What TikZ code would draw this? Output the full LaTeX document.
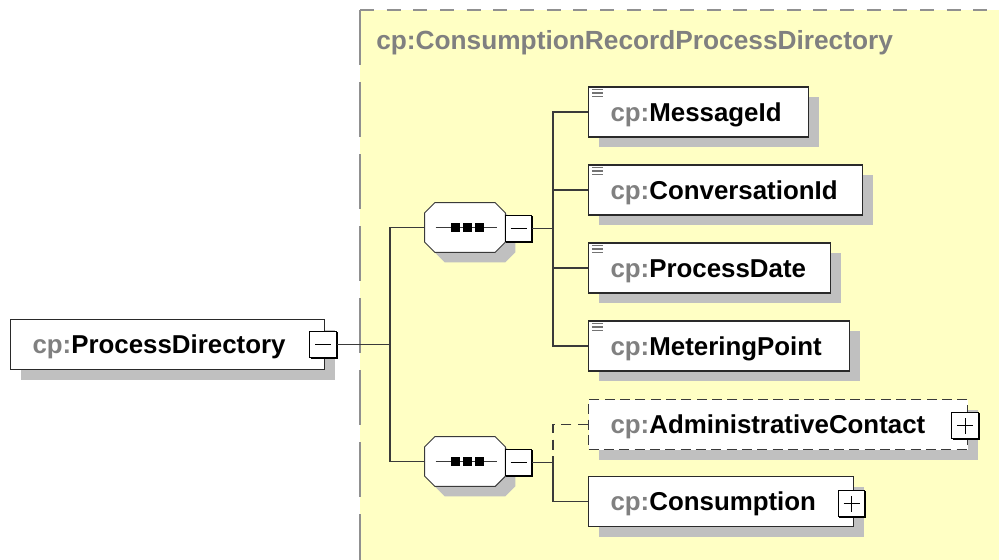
\documentclass[tikz,border=0pt]{standalone}
\usepackage{fontspec}
\setmainfont{Liberation Sans}
\usetikzlibrary{shadows,calc}
\definecolor{bgyellow}{HTML}{FFFFC4}
\definecolor{shadowgrey}{HTML}{C0C0C0}
\definecolor{cpgrey}{HTML}{808080}
\definecolor{framegrey}{HTML}{909090}
\definecolor{linecol}{HTML}{3A3A3A}
\definecolor{boxline}{HTML}{2A2A2A}
\tikzset{
  lbl/.style={font=\bfseries\fontsize{19.4}{21}\selectfont},
  titlelbl/.style={font=\bfseries\fontsize{19.7}{21}\selectfont},
  elem/.style={lbl, draw=boxline, line width=0.8pt, fill=white, rectangle, anchor=west,
    minimum height=37.5pt, inner xsep=16.5pt, inner ysep=0pt, align=left,
    text height=14pt, text depth=0.5pt,
    drop shadow={shadow xshift=7.5pt, shadow yshift=-7.5pt, fill=shadowgrey, opacity=1}},
  optelem/.style={elem, dash pattern=on 7.5pt off 4pt, draw=linecol},
  tog/.style={draw=black, line width=0.75pt, fill=white, rectangle, minimum width=20pt, minimum height=20pt, inner sep=0pt,
    drop shadow={shadow xshift=0.9pt, shadow yshift=-0.9pt, fill=black, opacity=1}},
  seqbox/.style={rectangle, minimum width=60pt, minimum height=36.75pt, inner sep=0pt},
  octo/.style={draw=linecol, line width=0.75pt, fill=white,
    drop shadow={shadow xshift=7.5pt, shadow yshift=-7.5pt, fill=shadowgrey, opacity=1}},
  conn/.style={draw=linecol, line width=0.9pt},
  iconline/.style={draw=cpgrey!90!black, line width=0.9pt},
}
\newcommand{\octagon}[1]{%
  \path[octo] ([xshift=7.5pt]#1.north west) -- ([xshift=-7.5pt]#1.north east) -- ([yshift=-7.5pt]#1.north east)
    -- ([yshift=7.5pt]#1.south east) -- ([xshift=-7.5pt]#1.south east) -- ([xshift=7.5pt]#1.south west)
    -- ([yshift=7.5pt]#1.south west) -- ([yshift=-7.5pt]#1.north west) -- cycle;
  \draw[linecol, line width=0.9pt] ([xshift=8.25pt]#1.west) -- ([xshift=-6pt]#1.east);
  \foreach \dx in {-14,-2,10} {\fill[black] ($(#1.center)+(\dx,0)+(0,-4.5)$) rectangle ++(9,9);}
}
\newcommand{\simpleicon}[1]{%
  \foreach \dy in {3,6.5,10} {\draw[iconline] ($(#1.north west)+(4,\dy)$) -- ++(11,0);}
}
\newcommand{\minusmark}[1]{\draw[black, line width=0.75pt] ([xshift=-6pt]#1.center) -- ([xshift=6pt]#1.center);}
\newcommand{\plusmark}[1]{\minusmark{#1}\draw[black, line width=0.75pt] ([yshift=-6pt]#1.center) -- ([yshift=6pt]#1.center);}
\begin{document}
\begin{tikzpicture}[x=0.75pt,y=-0.75pt]
\useasboundingbox (0,0) rectangle (999,560);
\fill[white] (0,0) rectangle (999,560);
\fill[bgyellow] (360,10) rectangle (999,560);
\draw[framegrey, line width=0.9pt, dash pattern=on 10.5pt off 9.5pt] (360,10) -- (999,10);
\draw[framegrey, line width=0.9pt, dash pattern=on 41pt off 13pt] (360,10) -- (360,560);
\node[titlelbl, anchor=base west, text=cpgrey, inner sep=0pt] (title) at (376,50) {cp:ConsumptionRecordProcessDirectory};

% root element
\node[elem, text width={(314-44)*0.75pt}] (pd) at (10,344.5) {{\color{cpgrey}cp:}ProcessDirectory};
\node[tog] (pdm) at (323,344.5) {};
\minusmark{pdm}

% sequences
\node[seqbox] (s1) at (465,227.5) {};
\octagon{s1}
\node[tog] (m1) at (518.5,228.5) {};
\minusmark{m1}
\node[seqbox] (s2) at (465,461.5) {};
\octagon{s2}
\node[tog] (m2) at (518.5,462.5) {};
\minusmark{m2}

% children
\node[elem, text width={(220-44)*0.75pt}] (e1) at (588,112) {{\color{cpgrey}cp:}MessageId};
\simpleicon{e1}
\node[elem, text width={(274-44)*0.75pt}] (e2) at (588,190) {{\color{cpgrey}cp:}ConversationId};
\simpleicon{e2}
\node[elem, text width={(242-44)*0.75pt}] (e3) at (588,268) {{\color{cpgrey}cp:}ProcessDate};
\simpleicon{e3}
\node[elem, text width={(261-44)*0.75pt}] (e4) at (588,346) {{\color{cpgrey}cp:}MeteringPoint};
\simpleicon{e4}
\node[optelem, text width={(379-44)*0.75pt}] (e5) at (588,424.5) {{\color{cpgrey}cp:}AdministrativeContact};
\node[tog] (p5) at (965,425.5) {};
\plusmark{p5}
\node[elem, text width={(265-44)*0.75pt}] (e6) at (588,501.5) {{\color{cpgrey}cp:}Consumption};
\node[tog] (p6) at (851.5,503.5) {};
\plusmark{p6}

% connectors
\coordinate (j0) at (390,0);
\coordinate (j1) at (553,0);
\draw[conn] (pdm.east) -- (pdm.east -| j0);
\draw[conn] (s1.west) -- (s1.west -| j0) -- (s2.west -| j0) -- (s2.west);
\draw[conn] (m1.east) -- (m1.east -| j1);
\draw[conn] (e1.west) -- (e1.west -| j1) -- (e4.west -| j1) -- (e4.west);
\draw[conn] (e2.west) -- (e2.west -| j1);
\draw[conn] (e3.west) -- (e3.west -| j1);
\draw[conn] (m2.east) -- (m2.east -| j1);
\draw[conn, dash pattern=on 7.5pt off 5pt] (e5.west) -- (e5.west -| j1) -- (m2.east -| j1);
\draw[conn] (m2.east -| j1) -- (e6.west -| j1) -- (e6.west);
\end{tikzpicture}
\end{document}
